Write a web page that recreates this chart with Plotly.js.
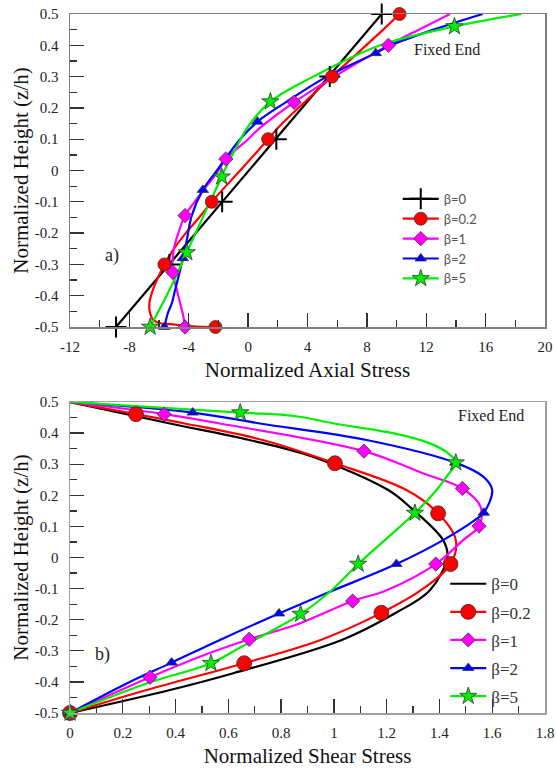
<!DOCTYPE html>
<html>
<head>
<meta charset="utf-8">
<script src="https://cdn.plot.ly/plotly-3.0.1.min.js"></script>
<style>html,body{margin:0;padding:0;background:#fff;}#chart{width:556px;height:770px;}</style>
</head>
<body>
<div id="chart"></div>
<script>
// ---------- Series labels ----------
const seriesNames = ['β=0', 'β=0.2', 'β=1', 'β=2', 'β=5'];

// ---------- Panel a) Normalized Axial Stress (curves) ----------
const axB0CurveZ = [-0.5, 0.5];
const axB0CurveX = [-8.9, 9.0];
const axB02CurveZ = [-0.5, -0.499, -0.491, -0.488, -0.478, -0.456, -0.424, -0.382, -0.3, -0.25, -0.2, -0.15, -0.1, 0.0, 0.1, 0.136, 0.3, 0.45, 0.5];
const axB02CurveX = [-2.2, -3.46, -5.26, -5.93, -6.38, -6.6, -6.65, -6.42, -5.64, -5.0, -4.2, -3.3, -2.45, -0.54, 1.35, 2.0, 5.65, 9.1, 10.2];
const axB1CurveZ = [-0.5, -0.467, -0.424, -0.382, -0.325, -0.25, -0.2, -0.144, -0.1, -0.062, 0.0, 0.037, 0.1, 0.136, 0.218, 0.3, 0.4, 0.45, 0.5];
const axB1CurveX = [-4.25, -4.36, -4.58, -4.8, -5.08, -5.0, -4.7, -4.25, -3.6, -3.0, -2.0, -1.5, 0.0, 0.8, 3.1, 5.8, 9.45, 11.5, 13.6];
const axB2CurveZ = [-0.5, -0.456, -0.424, -0.382, -0.318, -0.28, -0.222, -0.144, -0.062, 0.0, 0.1, 0.156, 0.22, 0.3, 0.375, 0.4, 0.45, 0.5];
const axB2CurveX = [-5.64, -5.41, -5.14, -4.92, -4.58, -4.4, -4.13, -3.8, -3.05, -2.1, -0.54, 0.63, 2.6, 5.3, 8.6, 9.6, 12.5, 15.8];
const axB5CurveZ = [-0.5, -0.382, -0.262, -0.144, -0.02, 0.0, 0.1, 0.136, 0.22, 0.3, 0.4, 0.46, 0.5];
const axB5CurveX = [-6.6, -5.3, -4.13, -3.0, -1.78, -1.6, -0.5, -0.07, 1.5, 4.4, 8.9, 13.9, 18.4];

// ---------- Panel a) marker positions ----------
const axB0MarkZ = [-0.5, -0.3, -0.1, 0.1, 0.3, 0.5];
const axB0MarkX = [-8.9, -5.3, -1.75, 1.9, 5.5, 9.0];
const axB02MarkZ = [-0.5, -0.3, -0.1, 0.1, 0.3, 0.5];
const axB02MarkX = [-2.2, -5.64, -2.45, 1.35, 5.65, 10.2];
const axB1MarkZ = [-0.5, -0.325, -0.144, 0.037, 0.218, 0.4];
const axB1MarkX = [-4.25, -5.08, -4.25, -1.5, 3.1, 9.45];
const axB2MarkZ = [-0.5, -0.28, -0.062, 0.156, 0.375];
const axB2MarkX = [-5.64, -4.4, -3.05, 0.63, 8.6];
const axB5MarkZ = [-0.5, -0.262, -0.02, 0.22, 0.46];
const axB5MarkX = [-6.6, -4.13, -1.78, 1.5, 13.9];

// ---------- Panel b) Normalized Shear Stress (curves) ----------
const shB0CurveZ = [-0.5, -0.426, -0.372, -0.265, -0.18, -0.105, 0.003, 0.056, 0.158, 0.217, 0.324, 0.378, 0.431, 0.5];
const shB0CurveX = [0, 0.379, 0.619, 1.03, 1.23, 1.364, 1.43, 1.414, 1.294, 1.206, 0.92, 0.68, 0.379, 0];
const shB02CurveZ = [-0.5, -0.426, -0.34, -0.265, -0.178, -0.105, -0.021, 0.056, 0.142, 0.217, 0.303, 0.378, 0.431, 0.461, 0.5];
const shB02CurveX = [0, 0.29, 0.66, 0.95, 1.18, 1.33, 1.442, 1.462, 1.395, 1.275, 1.004, 0.73, 0.435, 0.25, 0];
const shB1CurveZ = [-0.5, -0.385, -0.319, -0.263, -0.212, -0.14, -0.105, -0.021, 0.056, 0.101, 0.163, 0.222, 0.271, 0.342, 0.431, 0.461, 0.5];
const shB1CurveX = [0, 0.303, 0.492, 0.679, 0.87, 1.071, 1.2, 1.386, 1.49, 1.55, 1.556, 1.487, 1.337, 1.114, 0.568, 0.357, 0];
const shB2CurveZ = [-0.5, -0.405, -0.338, -0.265, -0.18, -0.11, -0.021, 0.056, 0.12, 0.144, 0.217, 0.26, 0.305, 0.378, 0.431, 0.466, 0.5];
const shB2CurveX = [0, 0.215, 0.385, 0.568, 0.792, 0.985, 1.237, 1.414, 1.534, 1.568, 1.6, 1.566, 1.46, 1.124, 0.72, 0.465, 0];
const shB5CurveZ = [-0.5, -0.405, -0.34, -0.287, -0.233, -0.182, -0.11, -0.021, 0.056, 0.143, 0.217, 0.26, 0.305, 0.335, 0.367, 0.4, 0.431, 0.455, 0.466, 0.5];
const shB5CurveX = [0, 0.29, 0.534, 0.65, 0.77, 0.874, 0.985, 1.092, 1.193, 1.307, 1.389, 1.427, 1.462, 1.433, 1.364, 1.224, 1.0, 0.85, 0.645, 0];

// ---------- Panel b) marker positions ----------
const shB02MarkZ = [-0.5, -0.34, -0.178, -0.021, 0.142, 0.303, 0.461];
const shB02MarkX = [0, 0.66, 1.18, 1.442, 1.395, 1.004, 0.25];
const shB1MarkZ = [-0.5, -0.385, -0.263, -0.14, -0.021, 0.101, 0.222, 0.342, 0.461];
const shB1MarkX = [0, 0.303, 0.679, 1.071, 1.386, 1.55, 1.487, 1.114, 0.357];
const shB2MarkZ = [-0.5, -0.338, -0.18, -0.021, 0.144, 0.305, 0.466];
const shB2MarkX = [0, 0.385, 0.792, 1.237, 1.568, 1.46, 0.465];
const shB5MarkZ = [-0.5, -0.34, -0.182, -0.021, 0.143, 0.305, 0.466];
const shB5MarkX = [0, 0.534, 0.874, 1.092, 1.307, 1.462, 0.645];

// ---------- Tick labels ----------
const heightTickVals = [-0.5, -0.4, -0.3, -0.2, -0.1, 0, 0.1, 0.2, 0.3, 0.4, 0.5];
const heightTickText = ['-0.5', '-0.4', '-0.3', '-0.2', '-0.1', '0', '0.1', '0.2', '0.3', '0.4', '0.5'];
const axialTickVals = [-12, -8, -4, 0, 4, 8, 12, 16, 20];
const axialTickText = ['-12', '-8', '-4', '0', '4', '8', '12', '16', '20'];
const shearTickVals = [0, 0.2, 0.4, 0.6, 0.8, 1, 1.2, 1.4, 1.6, 1.8];
const shearTickText = ['0', '0.2', '0.4', '0.6', '0.8', '1', '1.2', '1.4', '1.6', '1.8'];

// ---------- Styles ----------
const colors = ['#000000', '#ff0000', '#ff00ff', '#0000ff', '#00ee00'];
const symbols = ['cross-thin', 'circle', 'diamond', 'triangle-up', 'star'];
const SERIF = '"Liberation Serif", "Times New Roman", serif';
const SANS = 'Lato, "Open Sans", sans-serif';

function markerStyle(i, size) {
  if (i === 0) return {symbol: 'cross-thin', size: size, color: '#000', line: {color: '#000', width: 2}};
  return {symbol: symbols[i], size: size, color: colors[i], line: {color: '#333', width: 0.8}};
}

const traces = [];
function addCurve(x, y, i, xa, ya) {
  traces.push({x: x, y: y, xaxis: xa, yaxis: ya, mode: 'lines', type: 'scatter',
    line: {color: colors[i], width: 2.2, shape: 'spline', smoothing: 1}, showlegend: false, hoverinfo: 'skip'});
}
function addMarks(x, y, i, xa, ya, size) {
  traces.push({x: x, y: y, xaxis: xa, yaxis: ya, mode: 'markers', type: 'scatter', cliponaxis: false,
    marker: markerStyle(i, size), showlegend: false});
}
function addLegend(i, xa, ya, legend, size, withMarker) {
  traces.push({x: [null], y: [null], xaxis: xa, yaxis: ya, type: 'scatter',
    mode: withMarker ? 'lines+markers' : 'lines', name: seriesNames[i], legend: legend,
    legendgroup: legend + i,
    line: {color: colors[i], width: 2.2}, marker: markerStyle(i, size), showlegend: true});
}

// Panel a)
const axCurves = [[axB0CurveX, axB0CurveZ], [axB02CurveX, axB02CurveZ], [axB1CurveX, axB1CurveZ], [axB2CurveX, axB2CurveZ], [axB5CurveX, axB5CurveZ]];
const axMarks = [[axB0MarkX, axB0MarkZ], [axB02MarkX, axB02MarkZ], [axB1MarkX, axB1MarkZ], [axB2MarkX, axB2MarkZ], [axB5MarkX, axB5MarkZ]];
const axSizes = [15, 13, 11, 10, 13];
axCurves.forEach((c, i) => addCurve(c[0], c[1], i, 'x', 'y'));
axMarks.forEach((m, i) => addMarks(m[0], m[1], i, 'x', 'y', axSizes[i]));
for (let i = 0; i < 5; i++) addLegend(i, 'x', 'y', 'legend', axSizes[i], true);

// Panel b)
const shCurves = [[shB0CurveX, shB0CurveZ], [shB02CurveX, shB02CurveZ], [shB1CurveX, shB1CurveZ], [shB2CurveX, shB2CurveZ], [shB5CurveX, shB5CurveZ]];
const shMarks = [null, [shB02MarkX, shB02MarkZ], [shB1MarkX, shB1MarkZ], [shB2MarkX, shB2MarkZ], [shB5MarkX, shB5MarkZ]];
const shSizes = [0, 15, 11, 10, 13];
shCurves.forEach((c, i) => addCurve(c[0], c[1], i, 'x2', 'y2'));
shMarks.forEach((m, i) => { if (m) addMarks(m[0], m[1], i, 'x2', 'y2', shSizes[i]); });
for (let i = 0; i < 5; i++) addLegend(i, 'x2', 'y2', 'legend2', shSizes[i], i > 0);

const tickFont = {family: SERIF, size: 15, color: '#222'};
const titleFont = {family: SERIF, size: 21, color: '#111'};
function xAxis(range, vals, text, major, minor, title, anchor, lineColor) {
  return {range: range, tickmode: 'array', tickvals: vals, ticktext: text, ticks: 'inside', ticklen: 14, tickwidth: 1.3,
    tickcolor: '#333', minor: {dtick: minor, tick0: range[0], ticks: 'inside', ticklen: 7, tickwidth: 1.3, tickcolor: '#333', showgrid: false},
    showline: true, linecolor: lineColor, linewidth: 1.5, mirror: true, zeroline: false, showgrid: false,
    ticklabelstandoff: 5,
    tickfont: tickFont, title: {text: title, font: titleFont, standoff: 9}, anchor: anchor, domain: [0, 1], fixedrange: true};
}
function yAxis(domain, anchor, lineColor) {
  return {range: [-0.5, 0.5], domain: domain, anchor: anchor, tickmode: 'array', tickvals: heightTickVals, ticktext: heightTickText,
    ticks: 'inside', ticklen: 14, tickwidth: 1.3, tickcolor: '#333',
    minor: {dtick: 0.05, tick0: -0.5, ticks: 'inside', ticklen: 7, tickwidth: 1.3, tickcolor: '#333', showgrid: false},
    showline: true, linecolor: lineColor, linewidth: 1.5, mirror: true, zeroline: false, showgrid: false,
    ticklabelstandoff: 7,
    tickfont: tickFont, title: {text: 'Normalized Height (z/h)', font: titleFont, standoff: 0}, fixedrange: true};
}

const layout = {
  width: 556, height: 770,
  margin: {l: 70, r: 11, t: 14, b: 57},
  paper_bgcolor: '#fff', plot_bgcolor: '#fff',
  font: {family: SERIF, color: '#222'},
  xaxis: xAxis([-12, 20], axialTickVals, axialTickText, 4, 2, 'Normalized Axial Stress', 'y', '#808080'),
  yaxis: yAxis([0.5522, 1], 'x', '#808080'),
  xaxis2: xAxis([0, 1.8], shearTickVals, shearTickText, 0.2, 0.1, 'Normalized Shear Stress', 'y2', '#a0a0a0'),
  yaxis2: yAxis([0, 0.4449], 'x2', '#a0a0a0'),
  legend: {x: 0.69, y: 0.757, xanchor: 'left', yanchor: 'top', bgcolor: 'rgba(0,0,0,0)', borderwidth: 0,
    font: {family: SANS, size: 13, color: '#555'}, itemwidth: 36, traceorder: 'normal'},
  legend2: {x: 0.79, y: 0.21, xanchor: 'left', yanchor: 'top', bgcolor: 'rgba(0,0,0,0)', borderwidth: 0,
    font: {family: SERIF, size: 17, color: '#333'}, itemwidth: 36, traceorder: 'grouped', tracegroupgap: 3},
  annotations: [
    {text: 'Fixed End', xref: 'x', yref: 'y', x: 13.4, y: 0.388, showarrow: false, font: {family: SERIF, size: 16, color: '#222'}},
    {text: 'a)', xref: 'x', yref: 'y', x: -9.2, y: -0.273, showarrow: false, font: {family: SERIF, size: 18, color: '#222'}},
    {text: 'Fixed End', xref: 'x2', yref: 'y2', x: 1.595, y: 0.458, showarrow: false, font: {family: SERIF, size: 16, color: '#222'}},
    {text: 'b)', xref: 'x2', yref: 'y2', x: 0.125, y: -0.313, showarrow: false, font: {family: SERIF, size: 18, color: '#222'}}
  ],
  showlegend: true
};

Plotly.newPlot('chart', traces, layout, {displayModeBar: false, staticPlot: true});
</script>
</body>
</html>
